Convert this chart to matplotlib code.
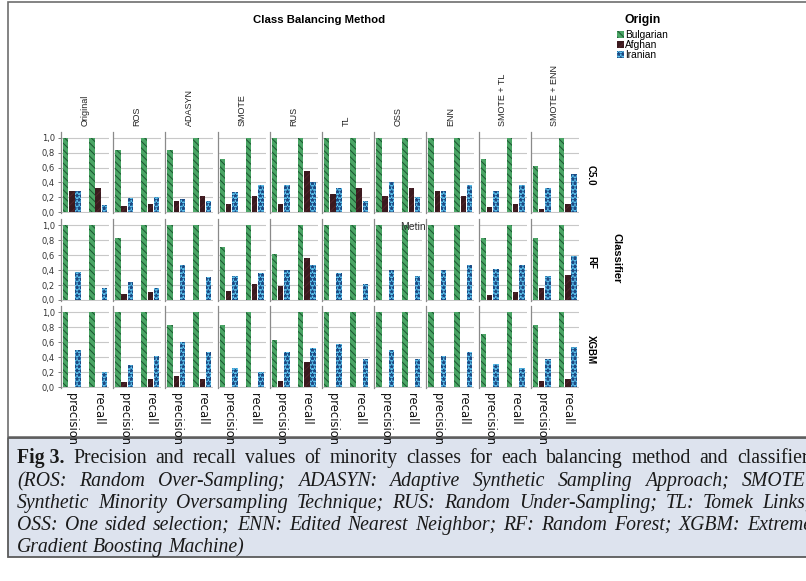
import matplotlib
matplotlib.use("Agg")
import matplotlib.pyplot as plt
from matplotlib.patches import Rectangle

W, H = 806, 581

methods = ["Original", "ROS", "ADASYN", "SMOTE", "RUS", "TL", "OSS", "ENN",
           "SMOTE + TL", "SMOTE + ENN"]
classifiers = ["C5.0", "RF", "XGBM"]
metrics = ["precision", "recall"]
origins = ["Bulgarian", "Afghan", "Iranian"]
yticks = [0.0, 0.2, 0.4, 0.6, 0.8, 1.0]
ytick_labels = ["0,0", "0,2", "0,4", "0,6", "0,8", "1,0"]

# C5.0
c50_bulgarian_precision = [1.0, 0.83, 0.83, 0.71, 1.0, 1.0, 1.0, 1.0, 0.71, 0.62]
c50_bulgarian_recall = [1.0, 1.0, 1.0, 1.0, 1.0, 1.0, 1.0, 1.0, 1.0, 1.0]
c50_afghan_precision = [0.29, 0.08, 0.15, 0.11, 0.11, 0.25, 0.22, 0.29, 0.07, 0.04]
c50_afghan_recall = [0.33, 0.11, 0.22, 0.22, 0.55, 0.33, 0.33, 0.22, 0.11, 0.11]
c50_iranian_precision = [0.29, 0.19, 0.18, 0.27, 0.37, 0.33, 0.40, 0.29, 0.28, 0.33]
c50_iranian_recall = [0.10, 0.21, 0.15, 0.36, 0.41, 0.15, 0.21, 0.37, 0.37, 0.52]

# RF
rf_bulgarian_precision = [1.0, 0.83, 1.0, 0.71, 0.62, 1.0, 1.0, 1.0, 0.83, 0.83]
rf_bulgarian_recall = [1.0, 1.0, 1.0, 1.0, 1.0, 1.0, 1.0, 1.0, 1.0, 1.0]
rf_afghan_precision = [0.0, 0.08, 0.0, 0.12, 0.19, 0.0, 0.0, 0.0, 0.07, 0.16]
rf_afghan_recall = [0.0, 0.11, 0.0, 0.22, 0.56, 0.0, 0.0, 0.0, 0.11, 0.33]
rf_iranian_precision = [0.37, 0.24, 0.47, 0.32, 0.40, 0.36, 0.40, 0.40, 0.41, 0.32]
rf_iranian_recall = [0.16, 0.16, 0.31, 0.36, 0.47, 0.21, 0.32, 0.47, 0.47, 0.59]

# XGBM
xgbm_bulgarian_precision = [1.0, 1.0, 0.83, 0.83, 0.63, 1.0, 1.0, 1.0, 0.71, 0.83]
xgbm_bulgarian_recall = [1.0, 1.0, 1.0, 1.0, 1.0, 1.0, 1.0, 1.0, 1.0, 1.0]
xgbm_afghan_precision = [0.0, 0.07, 0.15, 0.0, 0.08, 0.0, 0.0, 0.0, 0.0, 0.08]
xgbm_afghan_recall = [0.0, 0.11, 0.11, 0.0, 0.33, 0.0, 0.0, 0.0, 0.0, 0.11]
xgbm_iranian_precision = [0.50, 0.29, 0.60, 0.25, 0.47, 0.58, 0.50, 0.41, 0.31, 0.37]
xgbm_iranian_recall = [0.20, 0.42, 0.47, 0.20, 0.52, 0.37, 0.37, 0.47, 0.26, 0.53]

table = {
    "C5.0": {
        "Bulgarian": (c50_bulgarian_precision, c50_bulgarian_recall),
        "Afghan": (c50_afghan_precision, c50_afghan_recall),
        "Iranian": (c50_iranian_precision, c50_iranian_recall),
    },
    "RF": {
        "Bulgarian": (rf_bulgarian_precision, rf_bulgarian_recall),
        "Afghan": (rf_afghan_precision, rf_afghan_recall),
        "Iranian": (rf_iranian_precision, rf_iranian_recall),
    },
    "XGBM": {
        "Bulgarian": (xgbm_bulgarian_precision, xgbm_bulgarian_recall),
        "Afghan": (xgbm_afghan_precision, xgbm_afghan_recall),
        "Iranian": (xgbm_iranian_precision, xgbm_iranian_recall),
    },
}

styles = {
    "Bulgarian": dict(facecolor="#4aa565", edgecolor="#1b5530", hatch="\\\\\\\\\\"),
    "Afghan": dict(facecolor="#3b1a1f", edgecolor="#52262c", hatch="////"),
    "Iranian": dict(facecolor="#5dc4ee", edgecolor="#1d4a84", hatch="****"),
}
offsets = {"Bulgarian": -0.24, "Afghan": 0.0, "Iranian": 0.24}
bar_w = 0.21

plt.rcParams["hatch.linewidth"] = 0.7
fig = plt.figure(figsize=(W / 100, H / 100), dpi=100)


def fx(x):
    return x / W


def fy(y):
    return 1 - y / H


# frame around the chart region
fig.patches.append(Rectangle((fx(8), fy(437)), fx(900), (437 - 2) / H,
                             transform=fig.transFigure, facecolor="none",
                             edgecolor="#6e6e6e", lw=1.2, zorder=-5))

panel_left0 = 61.0
panel_step = 52.2
panel_w = 48.0
row_zero = [212.3, 300.0, 387.0]
unit = 74.6
ylo, yhi = -0.01, 1.08

for r, clf in enumerate(classifiers):
    for c, m in enumerate(methods):
        left = panel_left0 + c * panel_step
        top = row_zero[r] - yhi * unit
        bottom = row_zero[r] - ylo * unit
        ax = fig.add_axes([fx(left), fy(bottom), panel_w / W, (bottom - top) / H])
        ax.patch.set_alpha(0)
        for o in origins:
            prec, rec = table[clf][o]
            vals = [prec[c], rec[c]]
            xs = [k + offsets[o] for k in range(len(metrics))]
            ax.bar(xs, vals, width=bar_w, linewidth=0, zorder=3, **styles[o])
        ax.set_xlim(-0.42, 1.42)
        ax.set_ylim(ylo, yhi)
        ax.set_yticks(yticks)
        ax.yaxis.grid(True, color="#c8c8c8", lw=0.8, zorder=0)
        ax.set_axisbelow(True)
        for s in ["top", "right", "bottom"]:
            ax.spines[s].set_visible(False)
        ax.spines["left"].set_color("#8a8a8a")
        ax.spines["left"].set_linewidth(0.9)
        ax.set_xticks([])
        if c == 0:
            ax.set_yticklabels(ytick_labels, fontsize=6, color="#333333")
            ax.tick_params(axis="y", length=2.5, width=0.6, color="#666666", pad=2)
        else:
            ax.tick_params(axis="y", length=0, labelleft=False)
        if r == 0:
            fig.text(fx(left + panel_w / 2), fy(126), m, rotation=90,
                     ha="center", va="bottom", fontsize=6.5,
                     family="Liberation Sans", color="#222222")
        if r == len(classifiers) - 1:
            for k, lab in enumerate(metrics):
                ax.text(k, -0.06, lab, rotation=270, ha="center", va="top",
                        fontsize=8.3, color="#111111",
                        transform=ax.get_xaxis_transform())
    fig.text(fx(591), fy(row_zero[r] - 0.5 * unit), clf, rotation=270,
             ha="center", va="center", fontsize=7, fontweight="bold",
             family="Liberation Sans")

fig.text(fx(617), fy(258), "Classifier", rotation=270, ha="center", va="center",
         fontsize=8, fontweight="bold", family="Liberation Sans")
fig.text(fx(319), fy(20), "Class Balancing Method", ha="center", va="center",
         fontsize=8.2, fontweight="bold", family="Liberation Sans")
fig.text(fx(413), fy(227), "Metin", ha="center", va="center", fontsize=7.5,
         color="#333333", family="Liberation Sans")

# legend
fig.text(fx(643), fy(20), "Origin", ha="center", va="center", fontsize=8.8,
         fontweight="bold", family="Liberation Sans")
for i, o in enumerate(origins):
    yc = 34.5 + i * 10
    fig.patches.append(Rectangle((fx(617), fy(yc + 3.5)), 6.5 / W, 7 / H,
                                 transform=fig.transFigure, linewidth=0,
                                 **styles[o]))
    fig.text(fx(625), fy(yc), o, ha="left", va="center", fontsize=7.3,
             family="Liberation Sans")

# caption box
fig.patches.append(Rectangle((fx(8), fy(557)), fx(900), (557 - 438) / H,
                             transform=fig.transFigure, facecolor="#dde3ee",
                             edgecolor="#5a5a5a", lw=1.3, zorder=-5))

caption_lines = [
    ([("Fig 3.", "bold", "normal")] +
     [(w, "normal", "normal") for w in
      "Precision and recall values of minority classes for each balancing method and classifier.".split()],
     True),
    ([(w, "normal", "italic") for w in
      "(ROS: Random Over-Sampling; ADASYN: Adaptive Synthetic Sampling Approach; SMOTE:".split()], True),
    ([(w, "normal", "italic") for w in
      "Synthetic Minority Oversampling Technique; RUS: Random Under-Sampling; TL: Tomek Links;".split()], True),
    ([(w, "normal", "italic") for w in
      "OSS: One sided selection; ENN: Edited Nearest Neighbor; RF: Random Forest; XGBM: Extreme".split()], True),
    ([(w, "normal", "italic") for w in "Gradient Boosting Machine)".split()], False),
]
line_baseline = [463, 486, 508, 530, 552]
x_start, x_end = 17, 812
cap_size = 14.2

renderer = fig.canvas.get_renderer()
for (words, justify), yb in zip(caption_lines, line_baseline):
    texts = []
    widths = []
    for w, weight, style in words:
        t = fig.text(0, fy(yb), w, ha="left", va="baseline", fontsize=cap_size,
                     fontweight=weight, fontstyle=style, family="Liberation Serif",
                     color="#1a1a1a")
        texts.append(t)
        widths.append(t.get_window_extent(renderer).width)
    space = 0.25 * cap_size * 100 / 72
    if justify and len(words) > 1:
        gap = (x_end - x_start - sum(widths)) / (len(words) - 1)
    else:
        gap = space
    x = x_start
    for t, wd in zip(texts, widths):
        t.set_x(fx(x))
        x += wd + gap

fig.savefig("out.png", dpi=100)
